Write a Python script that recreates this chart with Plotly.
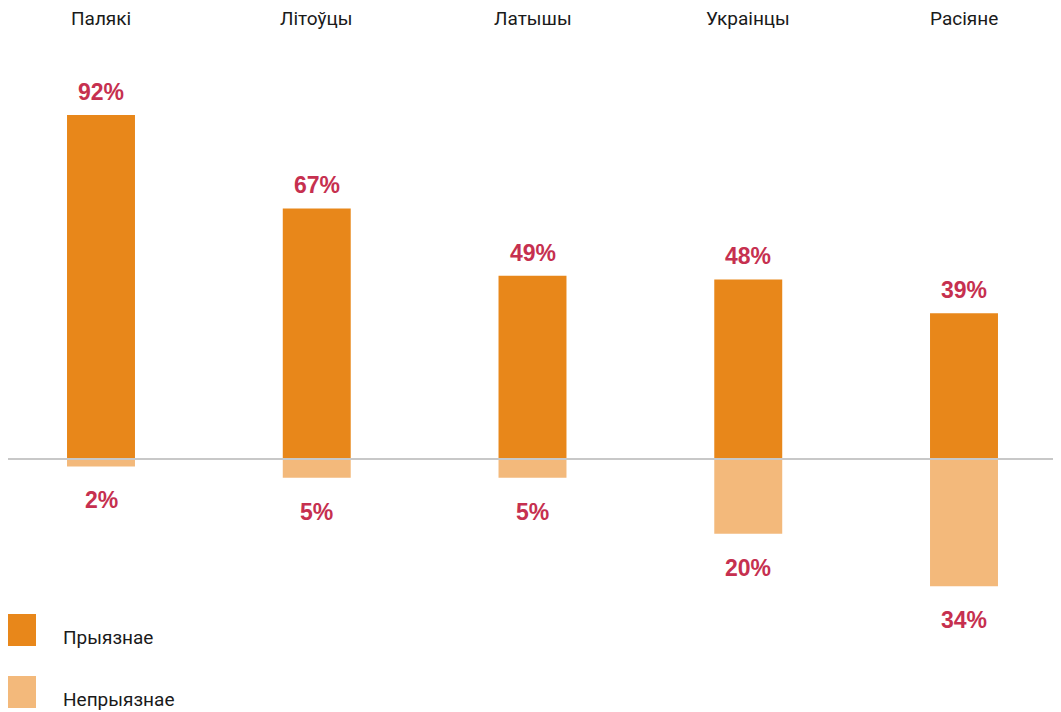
import plotly.graph_objects as go

categories = ["Палякі", "Літоўцы", "Латышы", "Украінцы", "Расіяне"]
positive = [92, 67, 49, 48, 39]
negative = [2, 5, 5, 20, 34]
series_names = ["Прыязнае", "Непрыязнае"]

C_POS = "#E8871A"
C_NEG = "#F3B97B"
C_TXT = "#C6304F"
W, H = 1061, 712
ML, MR, MT, MB = 0, 0, 0, 0
OFF = 8  # page body margin offset

fig = go.Figure()
fig.add_trace(go.Bar(x=categories, y=positive, name=series_names[0],
                     marker=dict(color=C_POS, line=dict(width=0)), width=0.315,
                     hoverinfo="skip"))
fig.add_trace(go.Bar(x=categories, y=[-v for v in negative], name=series_names[1],
                     marker=dict(color=C_NEG, line=dict(width=0)), width=0.315,
                     hoverinfo="skip"))

annotations = []
for c, p, n in zip(categories, positive, negative):
    annotations.append(dict(x=c, y=p, xref="x", yref="y", text=f"<b>{p}%</b>",
                            showarrow=False, yanchor="middle", yshift=23,
                            font=dict(family="Liberation Sans, Arial", size=23, color=C_TXT)))
    annotations.append(dict(x=c, y=-n, xref="x", yref="y", text=f"<b>{n}%</b>",
                            showarrow=False, yanchor="middle", yshift=-34,
                            font=dict(family="Liberation Sans, Arial", size=23, color=C_TXT)))
    annotations.append(dict(x=c, y=1, xref="x", yref="paper", text=c,
                            showarrow=False, yanchor="middle", yshift=-10,
                            font=dict(family="Roboto, sans-serif", size=19, color="#1a1a1a")))

def px_x(px):
    return (px - OFF - ML) / (W - ML - MR)

def px_y(py):
    return (H - MB - (py - OFF)) / (H - MT - MB)

shapes = [dict(type="line", xref="paper", yref="y", x0=0, x1=1, y0=0, y1=0,
               line=dict(color="#C8C8C8", width=2), layer="above")]
legend_items = [(series_names[0], C_POS, 630), (series_names[1], C_NEG, 692)]
for name, col, cy in legend_items:
    shapes.append(dict(type="rect", xref="paper", yref="paper",
                       x0=px_x(4), x1=px_x(36), y0=px_y(cy - 16), y1=px_y(cy + 16),
                       fillcolor=col, line=dict(width=0)))
    annotations.append(dict(x=px_x(61), y=px_y(cy + 7), xref="paper", yref="paper",
                            text=name, showarrow=False, xanchor="left", yanchor="middle",
                            font=dict(family="Roboto, sans-serif", size=19, color="#1a1a1a")))

ppu = 3.74
zero_px = 459 - OFF
c0 = 101 - OFF
step = 215.75
fig.update_layout(
    width=W, height=H,
    margin=dict(l=ML, r=MR, t=MT, b=MB),
    paper_bgcolor="white", plot_bgcolor="white",
    barmode="relative", showlegend=False,
    xaxis=dict(range=[-c0 / step, -c0 / step + W / step], showticklabels=False,
               showgrid=False, zeroline=False, showline=False),
    yaxis=dict(range=[-(H - zero_px) / ppu, zero_px / ppu], showticklabels=False,
               showgrid=False, zeroline=False, showline=False),
    annotations=annotations, shapes=shapes,
)
fig.write_html("out.html")
